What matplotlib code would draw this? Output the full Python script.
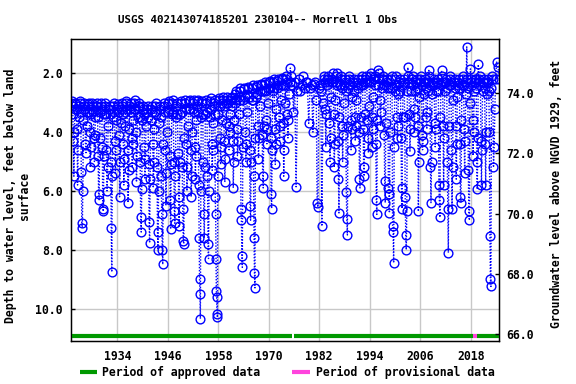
import matplotlib
matplotlib.use("Agg")
import matplotlib.pyplot as plt
from matplotlib.lines import Line2D
import matplotlib.transforms as mtransforms

# ---- data: depth to water (ft below land surface), chronological within each year ----
early_start = 1923
early_depths = [
    [3.0, 2.95, 3.1, 3.4, 4.3, 5.5, 4.0, 3.2],
    [3.0, 3.05, 3.2, 3.9, 5.8, 4.6, 3.5, 3.1],
    [2.95, 3.0, 3.3, 5.35, 7.1, 7.25, 6.0, 3.6],
    [3.0, 3.1, 3.2, 4.4, 4.7, 3.8, 3.3, 3.1],
    [3.05, 3.0, 3.3, 4.0, 5.2, 4.5, 3.4, 3.2],
    [3.0, 3.1, 3.3, 4.2, 5.0, 4.1, 3.5, 3.1],
    [3.0, 3.1, 3.5, 4.8, 6.1, 6.3, 4.2, 3.3],
    [3.1, 3.0, 3.2, 4.5, 6.6, 6.7, 4.8, 3.4],
    [3.1, 3.0, 3.4, 4.6, 6.0, 5.2, 3.8, 3.2],
    [3.2, 3.1, 3.4, 5.0, 7.25, 8.76, 5.5, 3.5],
    [3.1, 3.0, 3.3, 4.3, 5.4, 4.6, 3.6, 3.2],
    [3.1, 3.05, 3.3, 4.1, 6.2, 5.0, 3.7, 3.2],
    [3.1, 3.0, 3.4, 4.4, 5.8, 4.9, 3.8, 3.3],
    [3.0, 2.95, 3.2, 4.6, 6.4, 5.3, 3.9, 3.2],
    [3.1, 3.0, 3.3, 4.2, 5.2, 4.4, 3.6, 3.2],
    [3.0, 2.9, 3.2, 4.0, 5.7, 4.8, 3.5, 3.1],
    [3.1, 3.0, 3.5, 5.0, 6.9, 7.4, 5.95, 3.6],
    [3.2, 3.1, 3.4, 4.5, 5.6, 4.9, 3.8, 3.3],
    [3.2, 3.1, 3.5, 5.1, 7.06, 7.77, 5.6, 3.6],
    [3.2, 3.1, 3.3, 4.4, 5.9, 5.0, 3.9, 3.3],
    [3.1, 3.0, 3.4, 5.2, 7.4, 8.0, 6.0, 3.7],
    [3.2, 3.1, 3.5, 5.5, 6.8, 8.0, 8.5, 4.4],
    [3.1, 3.0, 3.3, 4.6, 6.5, 5.4, 4.0, 3.3],
    [3.0, 2.95, 3.2, 4.8, 6.3, 7.3, 5.1, 3.4],
    [3.0, 2.9, 3.3, 5.0, 6.7, 7.1, 5.5, 3.5],
    [3.1, 3.0, 3.4, 4.7, 6.2, 7.2, 5.0, 3.4],
    [3.0, 2.95, 3.3, 5.2, 6.6, 7.7, 7.8, 4.2],
]
mid_start = 1950
mid_depths = [
    [3.0, 2.9, 3.2, 4.4, 6.0, 5.2, 3.8, 3.2],
    [2.95, 2.9, 3.2, 4.6, 6.2, 5.5, 4.0, 3.2],
    [3.0, 2.9, 3.3, 4.5, 5.6, 4.8, 3.6, 3.1],
    [2.95, 2.9, 3.3, 5.8, 7.6, 9.0, 9.5, 10.35, 6.0, 3.5],
    [3.0, 2.95, 3.4, 5.0, 6.8, 7.6, 5.2, 3.4],
    [3.0, 2.9, 3.3, 5.5, 7.8, 8.3, 6.0, 3.5],
    [2.95, 2.85, 3.2, 4.4, 5.3, 4.6, 3.7, 3.1],
    [3.0, 2.9, 3.4, 6.2, 6.8, 8.3, 9.4, 9.6, 10.2, 10.3, 5.5, 3.4],
    [2.9, 2.85, 3.1, 4.2, 5.1, 4.5, 3.6, 3.0],
    [2.9, 2.8, 3.1, 4.3, 5.7, 4.9, 3.7, 3.0],
    [2.9, 2.8, 3.0, 3.8, 4.6, 4.0, 3.4, 2.9],
    [2.85, 2.8, 3.1, 4.3, 5.9, 5.0, 3.6, 3.0],
    [2.7, 2.6, 2.9, 3.9, 4.8, 4.3, 3.4, 2.8],
    [2.6, 2.5, 2.9, 6.6, 7.0, 8.2, 8.6, 4.5, 2.9],
    [2.55, 2.5, 2.8, 4.0, 5.0, 4.4, 3.3, 2.7],
    [2.5, 2.45, 2.8, 4.6, 6.5, 7.0, 5.0, 2.9],
    [2.5, 2.4, 2.9, 5.5, 7.6, 8.8, 9.3, 4.2, 2.8],
    [2.45, 2.4, 2.7, 3.8, 4.9, 4.2, 3.1, 2.6],
    [2.4, 2.35, 2.6, 4.1, 5.5, 5.9, 3.8, 2.6],
    [2.35, 2.3, 2.6, 3.6, 4.4, 3.9, 3.0, 2.5],
    [2.3, 2.25, 2.5, 4.2, 6.1, 6.6, 4.6, 2.6],
    [2.3, 2.2, 2.5, 3.9, 5.1, 4.4, 3.2, 2.5],
    [2.25, 2.2, 2.4, 3.5, 4.3, 3.8, 2.9, 2.4],
    [2.2, 2.15, 2.4, 3.7, 5.5, 4.6, 3.0, 2.4],
    [2.2, 2.1, 2.3, 3.4, 4.2, 3.6, 2.7, 2.3],
    [1.82, 2.1, 2.4, 3.3],
    [2.3, 5.86, 2.6],
]
late_start = 1977
late_depths = [
    [2.2, 2.6, 2.4],
    [2.1, 2.5, 2.3],
    [2.3, 3.7, 2.5],
    [2.4, 4.0, 2.35],
    [2.3, 2.9, 6.4, 6.55, 2.5],
    [2.4, 2.6, 7.2, 3.0],
    [2.1, 2.2, 2.3, 3.2, 4.5, 3.4, 2.4, 2.2],
    [2.2, 2.1, 2.3, 3.7, 5.0, 4.2, 2.8, 2.3],
    [2.2, 2.0, 2.3, 3.4, 5.2, 4.4, 2.9, 2.3],
    [2.1, 2.0, 2.4, 4.3, 5.6, 6.75, 3.5, 2.4],
    [2.2, 2.1, 2.5, 3.8, 5.0, 4.1, 3.0, 2.4],
    [2.3, 2.2, 2.6, 6.05, 6.95, 7.5, 3.8, 2.5],
    [2.2, 2.1, 2.4, 3.6, 4.6, 3.9, 2.8, 2.3],
    [2.3, 2.2, 2.6, 3.5, 4.3, 3.8, 2.9, 2.4],
    [2.3, 2.2, 2.5, 4.0, 5.6, 5.9, 3.5, 2.4],
    [2.2, 2.1, 2.4, 3.9, 5.2, 5.5, 3.4, 2.3],
    [2.2, 2.1, 2.3, 3.6, 4.2, 4.7, 3.1, 2.3],
    [2.1, 2.0, 2.3, 3.5, 4.5, 3.9, 2.8, 2.2],
    [2.2, 2.1, 2.4, 4.4, 6.3, 6.8, 3.6, 2.4],
    [1.9, 2.0, 2.2, 2.9, 3.8, 3.3, 2.5, 2.2],
    [2.2, 2.1, 2.4, 4.1, 5.66, 6.4, 3.7, 2.4],
    [2.3, 2.2, 2.5, 5.9, 6.1, 6.75, 4.0, 2.5],
    [2.2, 2.1, 2.5, 7.2, 7.4, 8.45, 4.5, 2.6],
    [2.2, 2.1, 2.4, 3.5, 4.2, 3.8, 2.7, 2.3],
]
recent_start = 2001
recent_depths = [
    [2.3, 2.2, 2.6, 4.2, 5.9, 6.6, 3.5, 2.4],
    [2.3, 2.2, 3.5, 6.2, 7.5, 8.0, 6.7, 2.6],
    [1.8, 2.1, 2.3, 3.4, 4.65, 3.9, 2.6, 2.2],
    [2.2, 2.1, 2.4, 3.2, 4.0, 3.5, 2.6, 2.3],
    [2.3, 2.2, 2.5, 3.8, 6.7, 5.0, 2.8, 2.3],
    [2.2, 2.1, 2.4, 4.1, 4.6, 4.3, 2.7, 2.3],
    [2.3, 2.2, 2.5, 3.5, 3.9, 3.3, 2.6, 2.3],
    [1.9, 2.1, 2.4, 5.2, 6.4, 5.0, 2.7, 2.3],
    [2.3, 2.2, 2.4, 3.7, 4.5, 3.9, 2.6, 2.3],
    [2.3, 2.2, 2.6, 5.8, 6.3, 6.9, 3.5, 2.4],
    [1.9, 2.1, 2.3, 3.8, 5.8, 4.2, 2.6, 2.3],
    [2.3, 2.2, 2.5, 5.0, 6.6, 8.1, 3.8, 2.4],
    [2.2, 2.1, 2.4, 4.6, 6.6, 5.2, 2.9, 2.3],
    [2.3, 2.2, 2.5, 3.8, 5.6, 4.4, 2.8, 2.4],
    [2.3, 2.2, 2.5, 4.4, 6.2, 6.4, 3.6, 2.4],
    [2.2, 2.1, 2.4, 3.9, 5.4, 4.3, 2.7, 2.3],
    [1.1, 2.2, 2.5, 5.3, 6.7, 7.0, 3.0, 1.85],
    [2.3, 2.2, 2.4, 3.6, 4.8, 4.0, 2.6, 2.2],
    [2.3, 2.2, 2.5, 5.0, 5.95, 4.2, 1.7, 2.3],
    [2.2, 2.1, 2.4, 4.3, 5.8, 4.6, 2.6, 2.3],
    [2.3, 2.2, 2.5, 4.4, 5.8, 4.0, 2.7, 2.3],
    [2.3, 2.2, 2.6, 4.0, 7.55, 9.0, 9.25, 2.5],
    [2.1, 2.2, 5.2, 4.5, 3.2, 2.2],
    [1.6, 1.8, 2.2],
]
approved_periods = [(1923.0, 1975.6), (1976.1, 2018.6), (2019.4, 2024.8)]
provisional_periods = [(2018.6, 2019.4)]
x_ticks = [1934, 1946, 1958, 1970, 1982, 1994, 2006, 2018]
left_ticks = [2.0, 4.0, 6.0, 8.0, 10.0]
right_ticks = [66.0, 68.0, 70.0, 72.0, 74.0]

# ---- assemble dated series (measurements spread through each year) ----
dates, depths = [], []
for start, block in [(early_start, early_depths), (mid_start, mid_depths),
                     (late_start, late_depths), (recent_start, recent_depths)]:
    for k, vals in enumerate(block):
        n = len(vals)
        for i, v in enumerate(vals):
            dates.append(start + k + (i + 0.5) / n)
            depths.append(v)

FONT = dict(family="DejaVu Sans Mono", weight="bold")
fig = plt.figure(figsize=(5.76, 3.84), dpi=100)
ax = fig.add_axes([71/576, 1-340.7/384, (499.3-71)/576, (340.7-39)/384])

ax.plot(dates, depths, linestyle=(0, (1, 1.2)), color="#0000ff", linewidth=1.0,
        marker="o", markersize=6.3, markerfacecolor="none",
        markeredgecolor="#0000ff", markeredgewidth=1.0, clip_on=True, zorder=3)

ax.set_xlim(1923.0, 2024.8)
ax.set_ylim(11.095, 0.833)
ax.set_xticks(x_ticks)
ax.set_yticks(left_ticks)
ax.set_yticklabels([f"{t:.1f}" for t in left_ticks], **FONT, fontsize=8.3)
ax.set_xticklabels([str(t) for t in x_ticks], **FONT, fontsize=8.3)
ax.grid(True, color="#c8c8c8", linewidth=1.0, zorder=0)
ax.set_axisbelow(True)
ax.tick_params(axis="both", direction="in", length=3, width=1, colors="black")
ax.tick_params(axis="x", pad=7, length=0)
ax.tick_params(axis="y", pad=6)
for s in ax.spines.values():
    s.set_linewidth(1.0)

# approval bar
trans = mtransforms.blended_transform_factory(ax.transData, ax.transAxes)
for a, b in approved_periods:
    ax.plot([a, b], [0.014, 0.014], transform=trans, color="#009900",
            linewidth=3.0, solid_capstyle="butt", zorder=4, clip_on=False)
for a, b in provisional_periods:
    ax.plot([a, b], [0.014, 0.014], transform=trans, color="#ff44dd",
            linewidth=3.0, solid_capstyle="butt", zorder=5, clip_on=False)

ax2 = ax.twinx()
ax2.set_ylim(65.78, 75.80)
ax2.set_yticks(right_ticks)
ax2.set_yticklabels([f"{t:.1f}" for t in right_ticks], **FONT, fontsize=8.3)
ax2.tick_params(axis="y", direction="in", length=3, width=1, pad=5)

fig.text(258/576, 1-20/384, "USGS 402143074185201 230104-- Morrell 1 Obs",
         ha="center", va="center", fontsize=7.8, **FONT)
fig.text(17.5/576, 0.49, "Depth to water level, feet below land\nsurface",
         rotation=90, ha="center", va="center", fontsize=8.3,
         linespacing=1.05, **FONT)
fig.text(556/576, 0.495, "Groundwater level above NGVD 1929, feet",
         rotation=90, ha="center", va="center", fontsize=8.3, **FONT)

# legend below
ly = 1 - 372/384
fig.add_artist(Line2D([80/576, 97/576], [ly, ly], color="#009900", linewidth=3.0,
                      solid_capstyle="butt"))
fig.text(102/576, ly, "Period of approved data", ha="left", va="center",
         fontsize=8.3, **FONT)
fig.add_artist(Line2D([292/576, 310/576], [ly, ly], color="#ff44dd", linewidth=3.0,
                      solid_capstyle="butt"))
fig.text(315.5/576, ly, "Period of provisional data", ha="left", va="center",
         fontsize=8.3, **FONT)

fig.savefig("out.png", dpi=100)
